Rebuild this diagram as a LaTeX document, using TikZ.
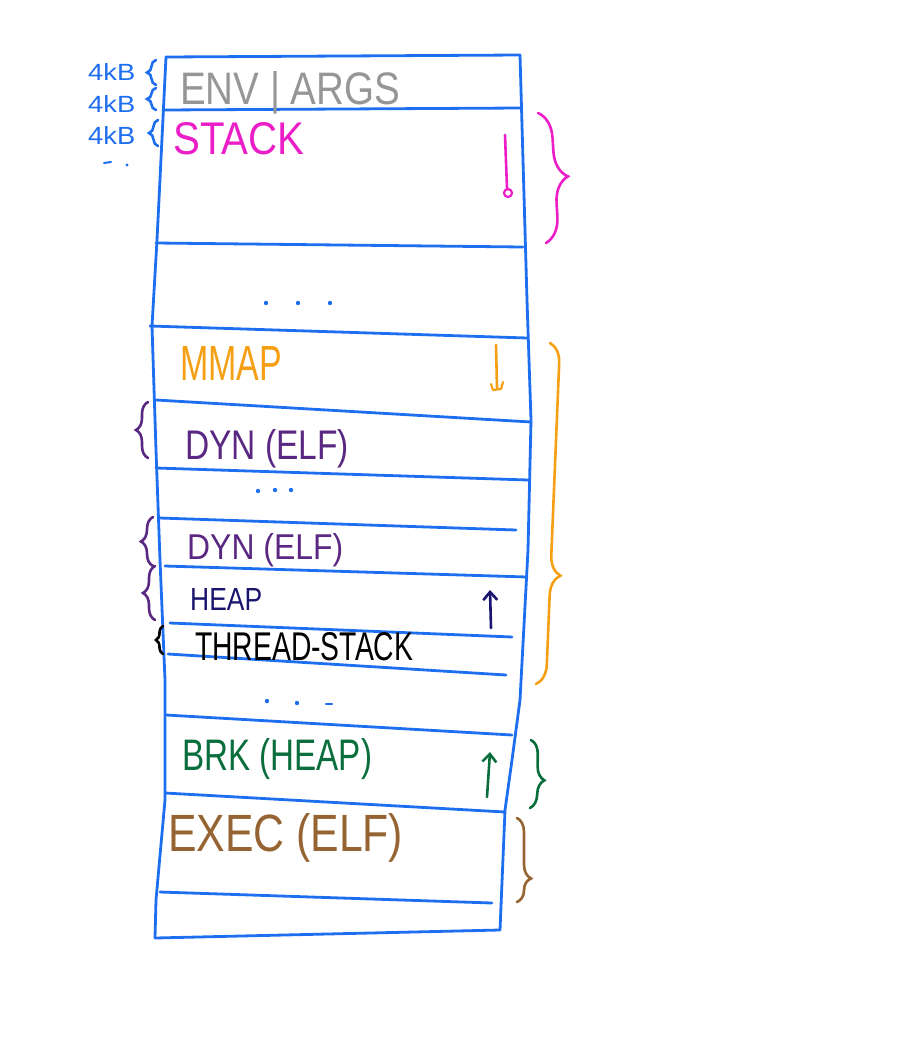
\documentclass[tikz,border=0pt]{standalone}
\usepackage{fontspec}
\setmainfont{Liberation Sans}
\usetikzlibrary{decorations.pathreplacing,arrows.meta}
\definecolor{cblue}{RGB}{30,110,240}
\definecolor{cgray}{RGB}{150,150,150}
\definecolor{cmag}{RGB}{235,30,200}
\definecolor{corange}{RGB}{245,160,20}
\definecolor{cpurple}{RGB}{90,40,130}
\definecolor{cnavy}{RGB}{25,20,110}
\definecolor{cgreen}{RGB}{10,110,60}
\definecolor{cbrown}{RGB}{150,100,50}
\newcommand{\hw}[3]{\resizebox{#1pt}{#2pt}{#3}}
\begin{document}
\begin{tikzpicture}[x=1pt,y=-1pt,
  wall/.style={cblue,line width=2.8pt,line cap=round,line join=round},
  lbl/.style={anchor=base west,inner sep=0pt},
  bracer/.style={decorate,decoration={brace,amplitude=#1},line width=2.6pt,line cap=round},
  bracer/.default=10,
  dotmark/.style={fill=cblue,draw=none},
  arr/.style={line width=2.6pt,line cap=round,-{Straight Barb[length=8pt,width=14pt]}}]
\useasboundingbox (0,0) rectangle (912,1042);
% outer walls
\draw[wall] (166,57) -- (520,55);
\draw[wall] (166,57) -- (157,240) -- (152,326) -- (156,450) -- (160,560) -- (165,680) -- (165,800) -- (156,900) -- (155,938);
\draw[wall] (520,55) -- (527,300) -- (531,420) -- (528,550) -- (520,700) -- (512,760) -- (505,810) -- (500,930);
\draw[wall] (155,938) -- (500,930);
% horizontal separators
\draw[wall] (163,110) -- (521,108);
\draw[wall] (156,243) -- (523,247);
\draw[wall] (150,326) -- (527,338);
\draw[wall] (156,400) -- (531,422);
\draw[wall] (156,468) -- (528,480);
\draw[wall] (160,518) -- (516,530);
\draw[wall] (165,566) -- (527,577);
\draw[wall] (170,623) -- (512,637);
\draw[wall] (168,654) -- (506,675);
\draw[wall] (166,715) -- (512,735);
\draw[wall] (165,793) -- (505,812);
\draw[wall] (160,892) -- (492,903);
% labels
\node[lbl,text=cgray] (env) at (180,104) {\hw{220}{33}{ENV | ARGS}};
\node[lbl,text=cmag] (stack) at (173,154) {\hw{131}{32}{STACK}};
\node[lbl,text=corange] (mmap) at (180,380) {\hw{102}{34}{MMAP}};
\node[lbl,text=cpurple] (dyna) at (185,459) {\hw{164}{30}{DYN (ELF)}};
\node[lbl,text=cpurple] (dynb) at (187,559) {\hw{156}{26}{DYN (ELF)}};
\node[lbl,text=cnavy] (heap) at (190,610) {\hw{72}{22}{HEAP}};
\node[lbl,text=black] (tstack) at (195,660) {\hw{218}{28}{THREAD-STACK}};
\node[lbl,text=cgreen] (brk) at (182,770) {\hw{190}{32}{BRK (HEAP)}};
\node[lbl,text=cbrown] (exec) at (168,851) {\hw{235}{38}{EXEC (ELF)}};
\node[lbl,text=cblue] (kb1) at (88,80) {\hw{47}{17}{4kB}};
\node[lbl,text=cblue] (kb2) at (88,112) {\hw{47}{17}{4kB}};
\node[lbl,text=cblue] (kb3) at (88,144) {\hw{47}{18}{4kB}};
% dots
\foreach \x/\y in {266/303,298/303,330/303,258/491,275/490,291/490,267/701,297/703}
  \fill[dotmark] (\x,\y) circle (2.2pt);
\draw[cblue,line width=2.4pt,line cap=round] (326,704) -- (332,704);
\draw[cblue,line width=2pt,line cap=round] (104,163) -- (111,162);
\fill[dotmark] (127,165) circle (1.6pt);
% direction marks
\draw[cmag,line width=2.6pt,line cap=round] (505,135) -- (507,188);
\draw[cmag,line width=2.2pt] (508,193) circle (4pt);
\draw[corange,line width=2.6pt,line cap=round] (496,345) -- (497,388);
\draw[corange,line width=2.2pt,line cap=round,line join=round] (491,384) -- (493,390) -- (501,389) -- (503,382);
\draw[cnavy,arr] (491,628) -- (490,590);
\draw[cgreen,arr] (487,797) -- (490,752);
% right braces
\draw[cmag,bracer=26] (538,113) -- (546,243);
\draw[corange,bracer=20,decoration={aspect=0.68}] (550,343) -- (536,684);
\draw[cgreen,bracer=14,decoration={aspect=0.59}] (531,740) -- (530,808);
\draw[cbrown,bracer=14,decoration={aspect=0.72}] (517,818) -- (517,902);
% left braces
\draw[cblue,bracer=9] (156,85) -- (156,60);
\draw[cblue,bracer=9] (156,110) -- (156,88);
\draw[cblue,bracer=9] (158,146) -- (158,120);
\draw[cpurple,bracer=12] (148,458) -- (148,402);
\draw[cpurple,bracer=12] (153,566) -- (153,517);
\draw[cpurple,bracer=12] (155,620) -- (155,566);
\draw[black,bracer=7] (163,654) -- (163,626);
\end{tikzpicture}
\end{document}
